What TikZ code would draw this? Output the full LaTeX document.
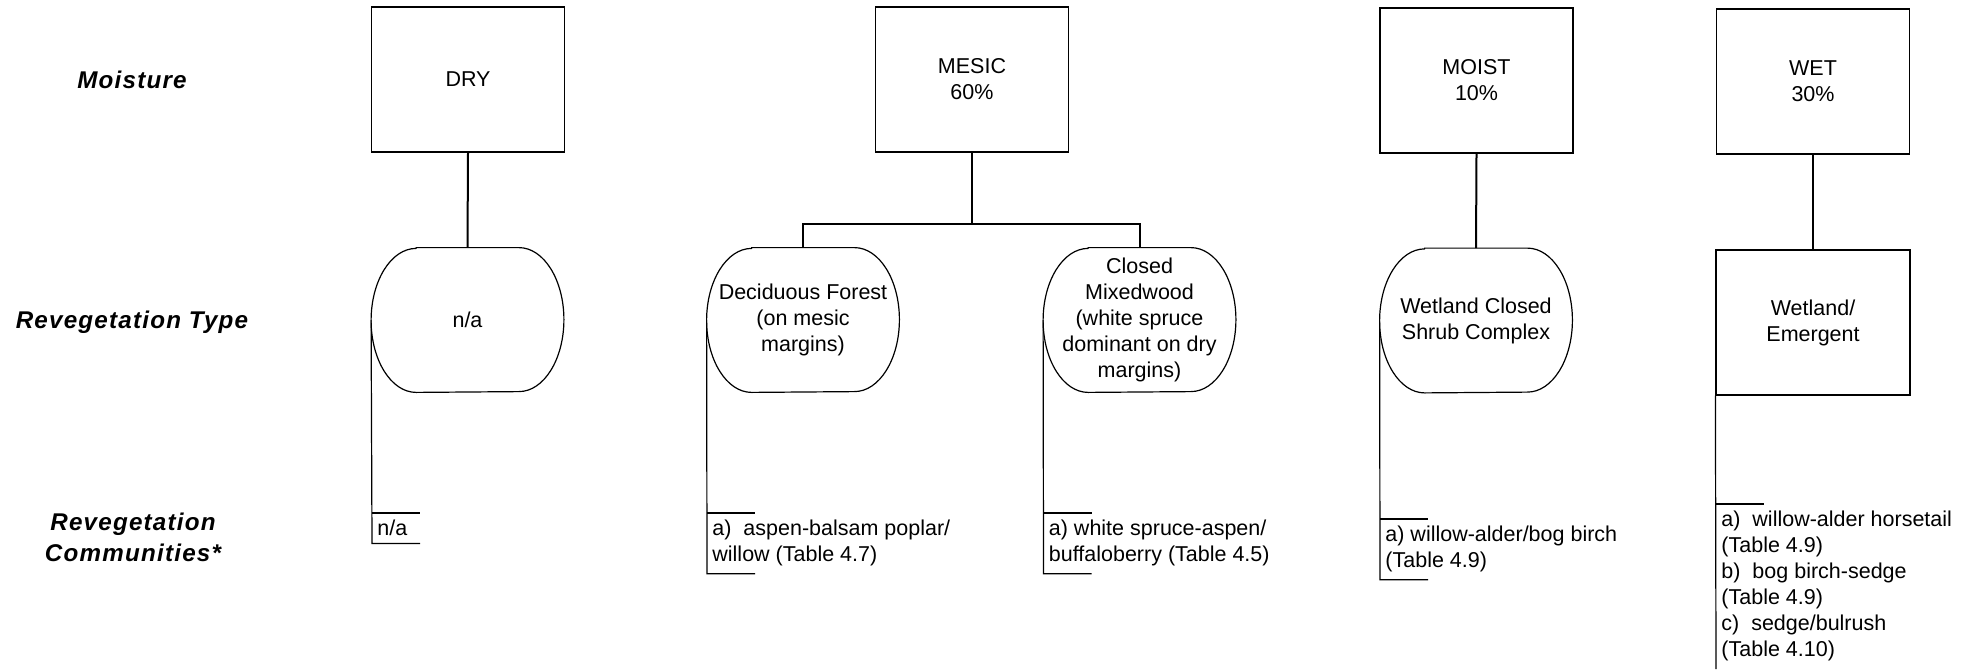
\documentclass[tikz,border=0pt]{standalone}
\usepackage{fontspec}
\setmainfont{Liberation Sans}
\newfontfamily\labelfont[LetterSpace=5]{Liberation Sans}
\newcommand{\bodyfont}{\fontsize{10.75pt}{13pt}\selectfont}

\tikzset{
  moistbox/.style={draw, line width=0.6pt, minimum width=96.5pt, minimum height=72.5pt,
    inner sep=0pt, align=center, font=\bodyfont},
  typebox/.style={minimum width=96pt, minimum height=72pt, inner sep=0pt,
    align=center, font=\bodyfont},
  commtext/.style={anchor=north west, inner xsep=2.5pt, inner ysep=3.5pt,
    align=left, font=\bodyfont},
  rowlabel/.style={font=\labelfont\bfseries\itshape\fontsize{12.1pt}{15.5pt}\selectfont,
    align=center},
  stem/.style={line width=1pt},
  thinline/.style={line width=0.6pt},
}

\begin{document}
\begin{tikzpicture}[x=0.5pt, y=0.5pt]
    \newcommand{\rx}{22.5pt} % horizontal radius of the rounded ends
    \newcommand{\ry}{36pt}   % vertical radius of the rounded ends
    \newcommand{\pill}[1]{%
      \draw[thinline] ([xshift=\rx]#1.north west) -- ([xshift=-\rx]#1.north east)
        arc[start angle=90, end angle=-90, x radius=\rx, y radius=\ry]
        -- ([xshift=\rx]#1.south west)
        arc[start angle=270, end angle=90, x radius=\rx, y radius=\ry] -- cycle;}

    \useasboundingbox (0,0) rectangle (1974,-669);

    % row labels
    \node[rowlabel] (lmoist) at (132,-80) {Moisture};
    \node[rowlabel] (ltype) at (132,-322) {Revegetation Type};
    \node[rowlabel] (lcomm) at (133,-537) {Revegetation\\Communities*};

    % moisture classes
    \node[moistbox] (dry) at (468,-79.5) {DRY};
    \node[moistbox] (mesic) at (972,-79.5) {MESIC\\60\%};
    \node[moistbox] (moist) at (1476.5,-80.5) {MOIST\\10\%};
    \node[moistbox] (wet) at (1813,-81.5) {WET\\30\%};

    % revegetation types
    \node[typebox] (na) at (467.5,-320) {n/a};
    \node[typebox] (decid) at (803,-320) {Deciduous Forest\\(on mesic\\margins)};
    \node[typebox] (mixed) at (1139.5,-320) {Closed\\Mixedwood\\(white spruce\\dominant on dry\\margins)};
    \node[typebox] (shrub) at (1476,-320.5) {Wetland Closed\\Shrub Complex};
    \node[typebox, draw, thinline, minimum width=97pt, minimum height=72.5pt] (emerg) at (1813,-322.5) {Wetland/\\Emergent};
    \pill{na}
    \pill{decid}
    \pill{mixed}
    \pill{shrub}

    % stems
    \coordinate (fork) at (972,-224);
    \draw[stem] (dry.south) -- (na.north);
    \draw[stem] (mesic.south) -- (fork);
    \draw[stem] (fork) -| (decid.north);
    \draw[stem] (fork) -| (mixed.north);
    \draw[stem] (moist.south) -- (shrub.north);
    \draw[stem] (wet.south) -- (emerg.north);

    % communities
    \node[commtext] (cna) at (372,-513) {n/a};
    \node[commtext] (cdecid) at (707,-513) {a)~ aspen-balsam poplar/\\willow (Table 4.7)};
    \node[commtext] (cmixed) at (1043.5,-513) {a) white spruce-aspen/\\buffaloberry (Table 4.5)};
    \node[commtext] (cshrub) at (1380,-519) {a) willow-alder/bog birch\\(Table 4.9)};
    \node[commtext] (cemerg) at (1716,-504) {a)~ willow-alder horsetail\\(Table 4.9)\\b)~ bog birch-sedge\\(Table 4.9)\\c)~ sedge/bulrush\\(Table 4.10)};
    \coordinate (wetend) at (1716,-669);

    % brackets
    \foreach \t/\c in {na/cna, decid/cdecid, mixed/cmixed, shrub/cshrub}
    {
      \draw[thinline] (\t.west) -- (\c.south west) -- ++(24pt,0);
      \draw[thinline] (\c.north west) -- ++(24pt,0);
    }
    \draw[thinline] (emerg.south west) -- (wetend);
    \draw[thinline] (cemerg.north west) -- ++(24pt,0);
\end{tikzpicture}
\end{document}
